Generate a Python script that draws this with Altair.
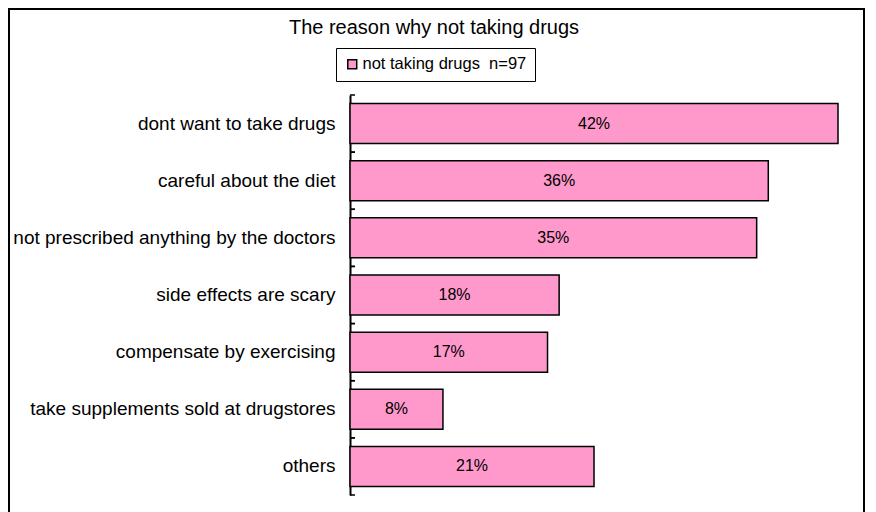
import altair as alt
import pandas as pd

categories = ["dont want to take drugs", "careful about the diet",
              "not prescribed anything by the doctors", "side effects are scary",
              "compensate by exercising", "take supplements sold at drugstores", "others"]
values = [42, 36, 35, 18, 17, 8, 21]
series_name = "not taking drugs\u00a0 n=97"
title_text = "The reason why not taking drugs"

df = pd.DataFrame({"cat": categories, "val": values, "series": series_name})
df["label"] = df["val"].astype(str) + "%"
df["mid"] = df["val"] / 2

FONT = "Liberation Sans, Arial"
PINK = "#FF99CC"

yscale = alt.Scale(domain=categories, paddingInner=0, paddingOuter=0)
xscale = alt.Scale(domain=[0, 42], nice=False, zero=True)

base = alt.Chart(df)

bars = base.mark_bar(stroke="black", strokeWidth=1.5,
                     height=alt.RelativeBandSize(band=0.7)).encode(
    y=alt.Y("cat:N", scale=yscale, sort=categories, title=None,
            axis=alt.Axis(ticks=False, labelPadding=15, labelFontSize=19,
                          labelFont=FONT, labelColor="black", domainColor="black",
                          domainWidth=2, labelLimit=400)),
    x=alt.X("val:Q", scale=xscale, axis=None),
    color=alt.Color("series:N", scale=alt.Scale(domain=[series_name], range=[PINK]),
                    legend=alt.Legend(title=None, orient="none", legendX=-14, legendY=-47,
                                      symbolType="square", symbolStrokeColor="black",
                                      symbolStrokeWidth=1.5, symbolSize=80,
                                      labelFontSize=16.5, labelFont=FONT, labelColor="black",
                                      labelOffset=2, labelLimit=400,
                                      strokeColor="black", padding=8, fillColor="white")),
)

labels = base.mark_text(fontSize=16, font=FONT, color="black").encode(
    y=alt.Y("cat:N", scale=yscale, sort=categories),
    x=alt.X("mid:Q", scale=xscale),
    text="label:N",
)

ticks_top = base.mark_rule(color="black", strokeWidth=1.5).encode(
    y=alt.Y("cat:N", scale=yscale, sort=categories, bandPosition=0),
    x=alt.value(0), x2=alt.value(5),
)
ticks_bot = base.mark_rule(color="black", strokeWidth=1.5).encode(
    y=alt.Y("cat:N", scale=yscale, sort=categories, bandPosition=1),
    x=alt.value(0), x2=alt.value(5),
)

one = pd.DataFrame({"t": [title_text]})
frame = alt.Chart(one).mark_rect(
    fill=None, stroke="black", strokeWidth=2).encode(
    x=alt.value(-341), x2=alt.value(514), y=alt.value(-86), y2=alt.value(430),
)
title = alt.Chart(one).mark_text(fontSize=20, font=FONT, color="black",
                                 baseline="middle", align="center").encode(
    text="t:N", x=alt.value(84), y=alt.value(-67),
)

chart = alt.layer(frame, title, bars, labels, ticks_top, ticks_bot).properties(
    width=488, height=400,
    autosize=alt.AutoSizeParams(type="none"),
    padding={"left": 342, "top": 87, "right": 28, "bottom": 20},
).configure(background="white").configure_view(stroke=None)

chart.save("out.html", embed_options={"renderer": "svg", "actions": False})
